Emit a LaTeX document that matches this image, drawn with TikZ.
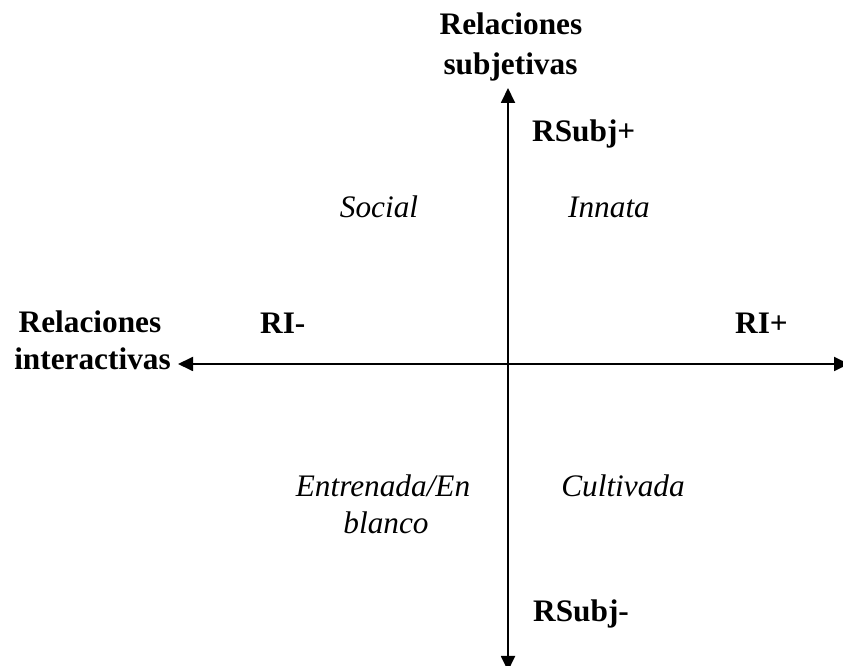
\documentclass[tikz,border=0pt]{standalone}
\usepackage{fontspec}
\setmainfont{Liberation Serif}
\usetikzlibrary{arrows.meta}
\begin{document}
\begin{tikzpicture}[x=1pt,y=1pt,
  lbl/.style={inner sep=0pt,anchor=base,font=\fontsize{31.3}{38}\selectfont\bfseries},
  quad/.style={inner sep=0pt,anchor=base,font=\fontsize{31.3}{38}\selectfont\itshape},
  axis/.style={line width=1.8pt,-{Triangle[length=15pt,width=14pt]}}]
\useasboundingbox (0,0) rectangle (843,666);
% axis ends
\coordinate (top) at (508,578);
\coordinate (bottom) at (508,-5);
\coordinate (left) at (178,302);
\coordinate (right) at (849,302);
\coordinate (o) at (508,302);
\draw[axis] (o) -- (top);
\draw[axis] (o) -- (bottom);
\draw[axis] (o) -- (left);
\draw[axis] (o) -- (right);
% axis titles
\node[lbl] (ttop1) at (511,631) {Relaciones};
\node[lbl] (ttop2) at (510.5,591) {subjetivas};
\node[lbl] (tleft1) at (90,333) {Relaciones};
\node[lbl] (tleft2) at (92.5,296) {interactivas};
% poles
\node[lbl,anchor=base west] (rsp) at (532,524) {RSubj+};
\node[lbl,anchor=base west] (rsm) at (533,44) {RSubj-};
\node[lbl,anchor=base west] (rim) at (260,332) {RI-};
\node[lbl,anchor=base west] (rip) at (735,332) {RI+};
% quadrants
\node[quad] (social) at (379,448) {Social};
\node[quad] (innata) at (609,448) {Innata};
\node[quad] (entr1) at (383,169) {Entrenada/En};
\node[quad] (entr2) at (386,132) {blanco};
\node[quad] (cult) at (623,169) {Cultivada};
\end{tikzpicture}
\end{document}
